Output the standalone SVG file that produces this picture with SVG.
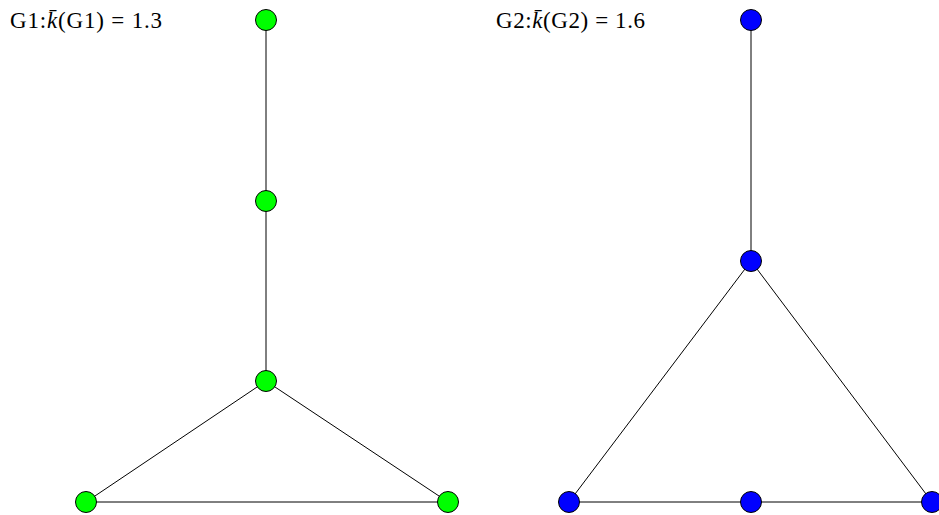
<svg xmlns="http://www.w3.org/2000/svg" width="939" height="515" viewBox="0 0 939 515">
<style>
.lbl{font-family:"Liberation Serif","DejaVu Serif",serif;font-size:23px;fill:#000}
.e{stroke:#000;stroke-width:1;fill:none}
.g{fill:#00ff00;stroke:#000;stroke-width:1}
.b{fill:#0000ff;stroke:#000;stroke-width:1}
</style>
<rect width="939" height="515" fill="#fff"/>
<text class="lbl" x="10" y="28" textLength="152" lengthAdjust="spacing">G1:<tspan font-style="italic">k̄</tspan>(G1) = 1.3</text>
<text class="lbl" x="496" y="28" textLength="149" lengthAdjust="spacing">G2:<tspan font-style="italic">k̄</tspan>(G2) = 1.6</text>
<g id="edges">
<line class="e" x1="266" y1="20" x2="266" y2="201"/>
<line class="e" x1="266" y1="201" x2="266" y2="381"/>
<line class="e" x1="266" y1="381" x2="86" y2="502"/>
<line class="e" x1="266" y1="381" x2="448" y2="502"/>
<line class="e" x1="86" y1="502" x2="448" y2="502"/>
<line class="e" x1="751" y1="20" x2="751" y2="261"/>
<line class="e" x1="751" y1="261" x2="569" y2="502"/>
<line class="e" x1="751" y1="261" x2="932" y2="502"/>
<line class="e" x1="569" y1="502" x2="751" y2="502"/>
<line class="e" x1="751" y1="502" x2="932" y2="502"/>
</g>
<g id="g1n1"><circle class="g" cx="266" cy="20" r="10.5"/></g>
<g id="g1n2"><circle class="g" cx="266" cy="201" r="10.5"/></g>
<g id="g1n3"><circle class="g" cx="266" cy="381" r="10.5"/></g>
<g id="g1n4"><circle class="g" cx="86" cy="502" r="10.5"/></g>
<g id="g1n5"><circle class="g" cx="448" cy="502" r="10.5"/></g>
<g id="g2n1"><circle class="b" cx="751" cy="20" r="10.5"/></g>
<g id="g2n2"><circle class="b" cx="751" cy="261" r="10.5"/></g>
<g id="g2n3"><circle class="b" cx="569" cy="502" r="10.5"/></g>
<g id="g2n4"><circle class="b" cx="751" cy="502" r="10.5"/></g>
<g id="g2n5"><circle class="b" cx="932" cy="502" r="10.5"/></g>
</svg>
